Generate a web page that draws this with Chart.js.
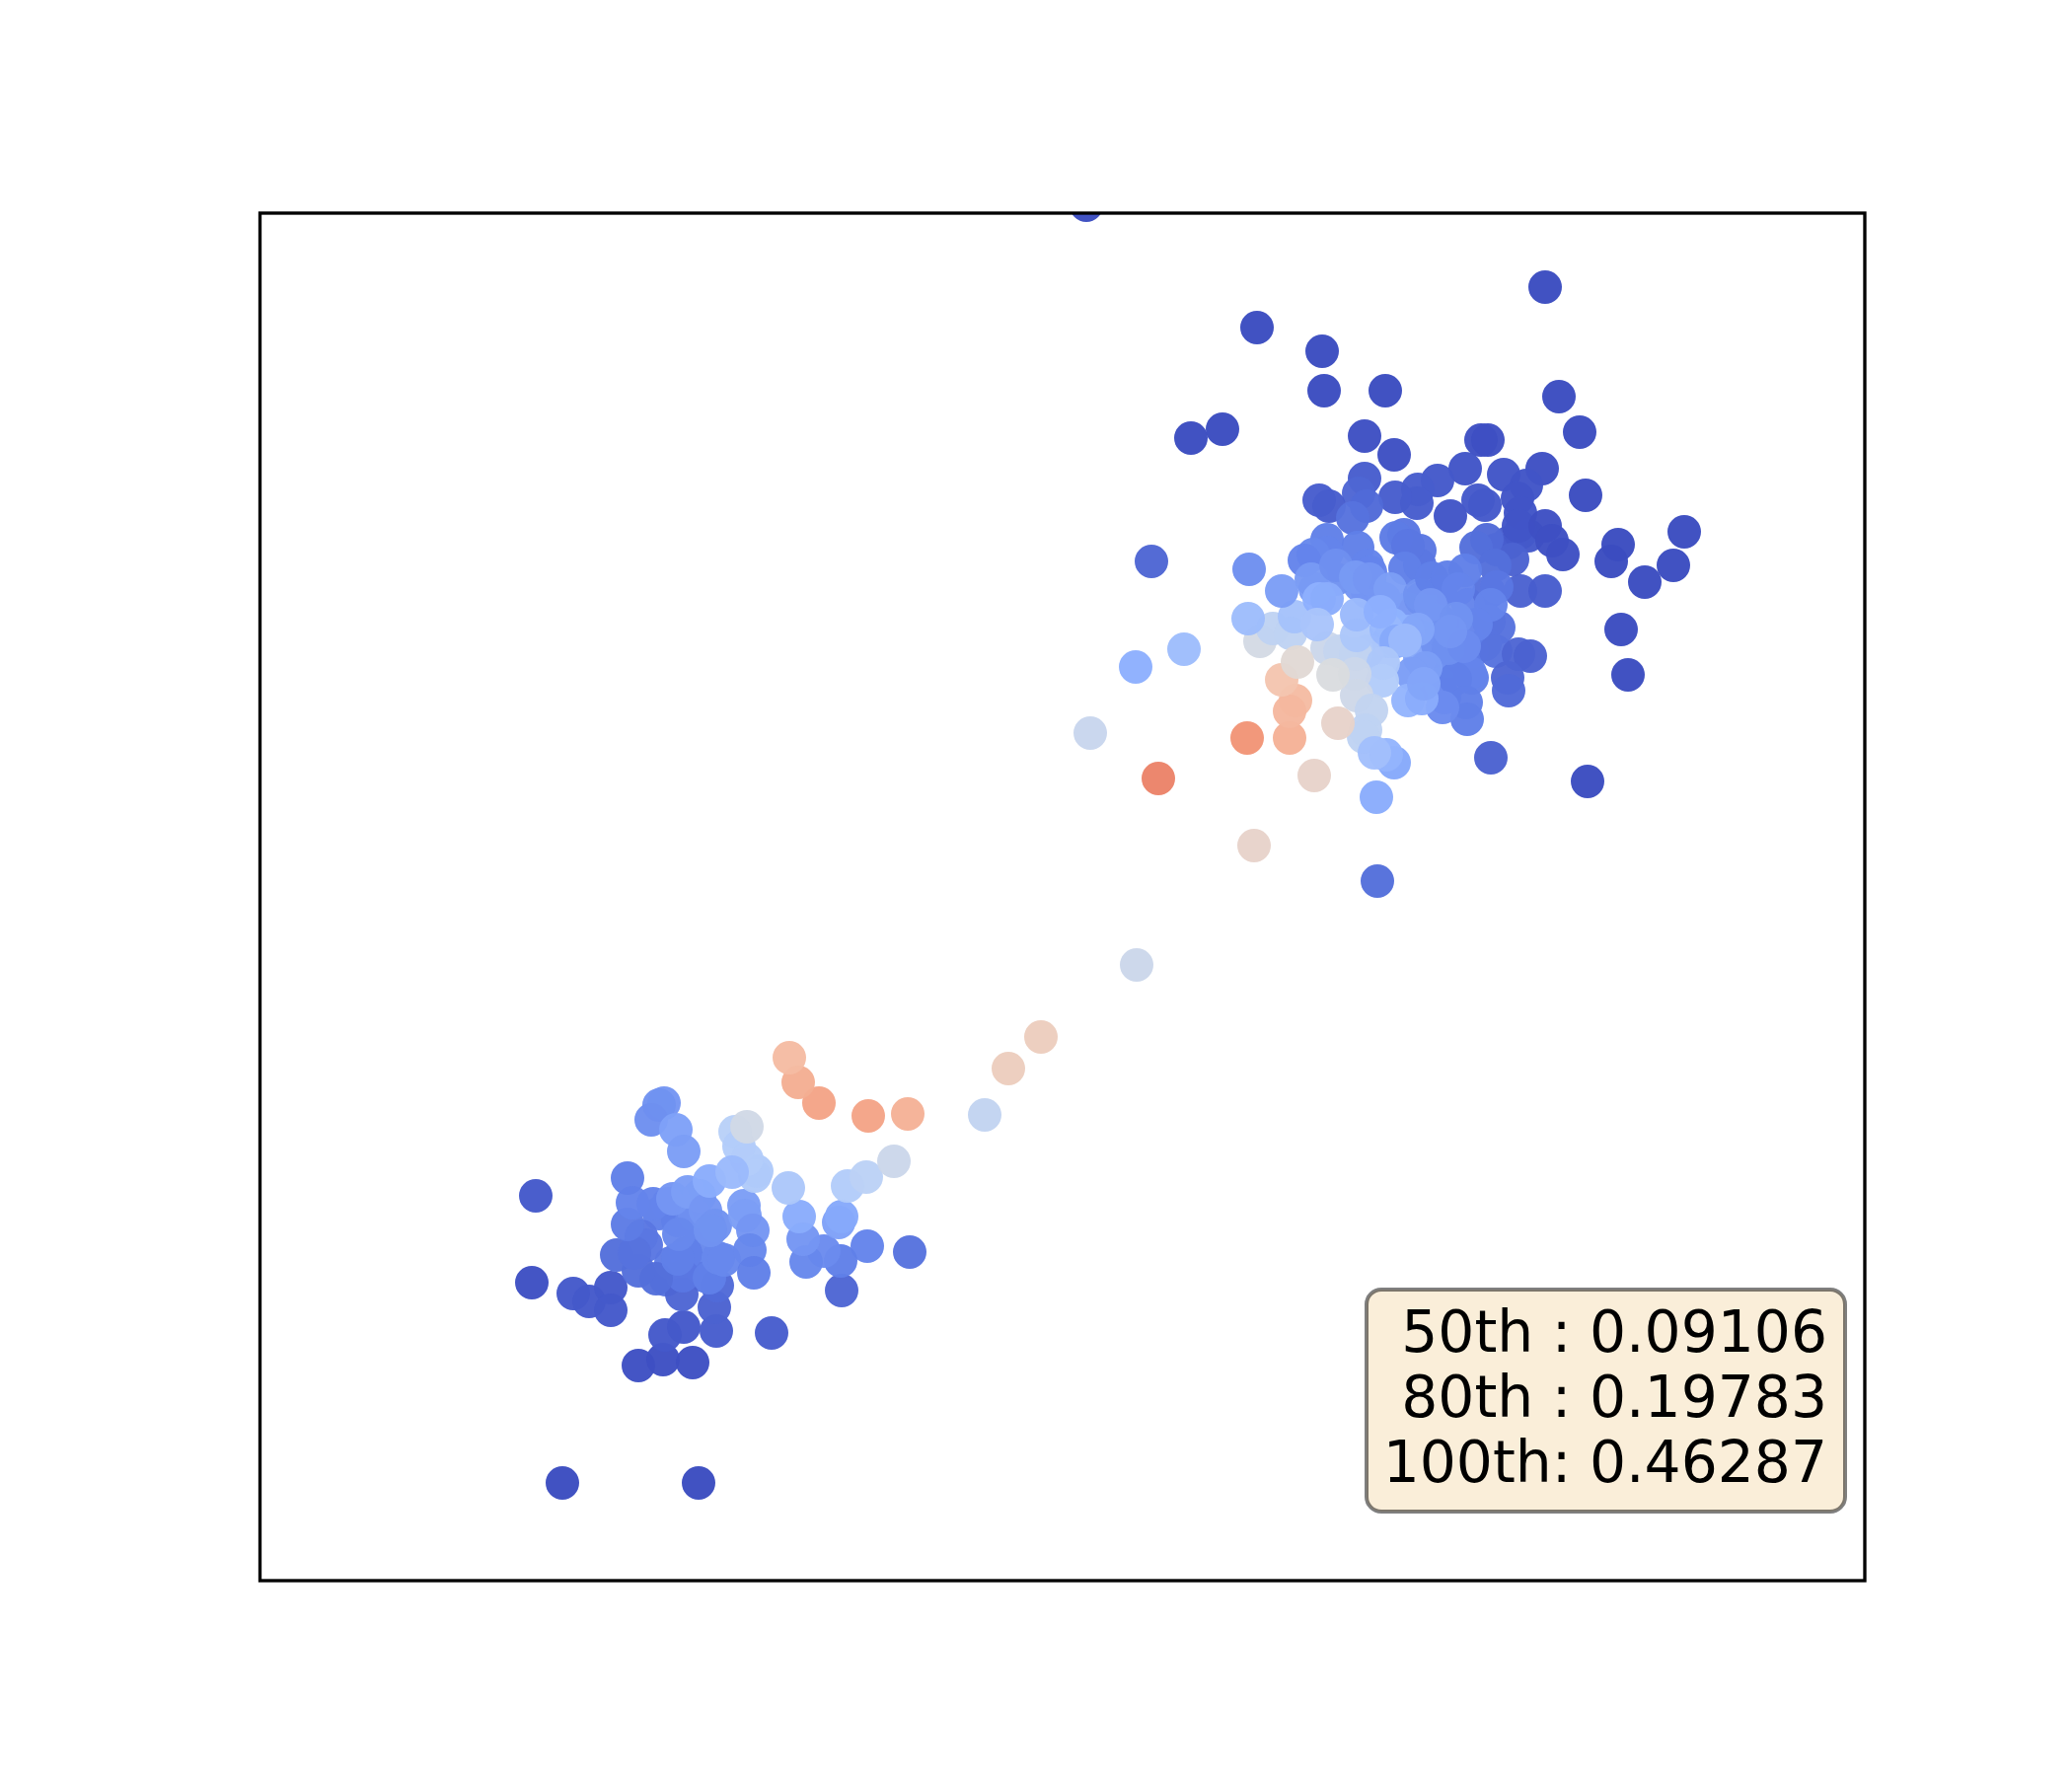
<!DOCTYPE html>
<html>
<head>
<meta charset="utf-8">
<title>Scatter</title>
<script src="https://cdn.jsdelivr.net/npm/chart.js@4"></script>
<style>
  html, body { margin: 0; padding: 0; background: #fff; }
  canvas { display: block; }
</style>
</head>
<body>
<canvas id="myChart" width="2100" height="1800"></canvas>
<script>
// values, axes have no ticks so units are arbitrary
const statLabels = ["50th : 0.09106", "80th : 0.19783", "100th: 0.46287"];

// points hidden under the top of each clump
const lowerCoreX = [414, 424, 441, 456, 417, 437, 451, 405, 392, 445, 432, 412, 446];
const lowerCoreY = [382, 365, 370, 359, 322, 315, 309, 372, 340, 340, 332, 305, 390];
const lowerCoreShade = [.14, .14, .16, .17, .11, .1, .11, .12, .1, .14, .12, .09, .18];

const lowerX = [307, 445, 280, 276, 318, 334, 356, 356, 384, 409, 439, 411, 430, 463, 519, 461, 428, 464, 590,
  659, 616, 589, 572, 554, 551, 429, 402, 384, 387, 362, 380, 373, 378, 399, 373, 456, 465, 471, 424, 425,
  419, 434, 452, 462, 491, 492, 500, 497, 501, 410, 405, 397, 422, 430, 456, 457, 547, 587, 590, 536, 596,
  615, 643, 482, 486, 504, 502, 494, 479, 494, 657, 617, 567, 546, 537];
const lowerY = [99, 99, 390, 302, 291, 283, 297, 274, 218, 224, 221, 249, 257, 253, 251, 277, 290, 299, 294,
  333, 339, 324, 334, 323, 346, 309, 306, 314, 349, 330, 332, 361, 383, 382, 408, 307, 327, 325, 326, 351,
  387, 394, 375, 360, 380, 370, 355, 335, 312, 484, 482, 467, 457, 435, 405, 355, 369, 363, 369, 398, 400,
  409, 425, 455, 440, 415, 410, 427, 414, 460, 473, 471, 484, 505, 530];
const lowerShade = [0, 0, .03, .01, .03, .03, .03, .03, .01, .01, .01, .03, .03, .04, .04, .05, .06, .07, .06,
  .09, .13, .12, .15, .14, .18, .1, .08, .08, .1, .08, .09, .11, .13, .13, .12, .12, .14, .14, .12, .14,
  .18, .2, .18, .17, .2, .2, .18, .14, .12, .18, .17, .16, .21, .2, .24, .17, .24, .21, .23, .34, .36,
  .39, .44, .38, .36, .35, .35, .36, .29, .46, .68, .72, .72, .69, .65];

// bridge between the two clumps
const bridgeX = [735, 759, 792];
const bridgeY = [472, 519, 551];
const bridgeShade = [.41, .58, .58];

const upperCoreX = [1197, 1188, 1164, 1225, 1246, 1246, 1197, 1213, 1229, 1242, 1205, 1229, 1197, 1201,
  1123, 1140, 1115, 1091, 1070, 1176, 1254, 1266, 1286, 1278, 1144, 1164, 1148, 1123, 1176, 1177, 1197, 1204, 1194];
const upperCoreY = [1002, 975, 985, 989, 1002, 972, 955, 949, 942, 949, 932, 915, 909, 895,
  1002, 995, 1009, 1015, 1005, 1029, 1045, 1052, 1059, 1062, 952, 962, 969, 942, 935, 995, 972, 942, 949];
const upperCoreShade = [.13, .17, .18, .13, .09, .1, .16, .15, .13, .11, .15, .12, .17, .15,
  .17, .2, .18, .17, .2, .1, .05, .04, .03, .03, .25, .25, .26, .34, .22, .16, .17, .17, .17];

const upperX = [838, 1303, 1011, 1077, 1079, 1141, 1317, 1338, 944, 976, 1120, 1150, 1238, 1245, 1344, 1300, 1261,
  1222, 1194, 1174, 1173, 1151, 1120, 1114, 1122, 1074, 1084, 1108, 1207, 1235, 1242, 1284, 1275, 1278, 1276, 1303,
  1310, 1321, 1444, 1377, 1370, 1433, 1404, 1380, 1387, 1346, 1248, 1133, 904,
  1278, 1303, 1270, 1244, 1233, 1252, 1256, 1253, 1276, 1288, 1265, 1266, 1254, 1248,
  1176, 1160, 1152, 1164, 1113, 1082, 1082, 1068, 1059, 1161, 1123, 1126, 1227, 1212, 1223, 1224, 1199, 1233,
  1003, 1066, 1091, 1111, 1125, 1146, 1176, 1188, 1204, 1222, 1215, 1187, 1213, 1205, 1221, 1207,
  1182, 1168, 1164, 1178, 1180, 1150, 1132,
  1014, 1027, 1045, 1082, 1095, 1111, 1049, 1002, 1036, 1074, 1082, 1072, 1112, 1112, 1151, 1142, 1152, 1136, 1174, 1161,
  937, 888, 842, 889, 1139, 1138, 1110, 1112, 1127, 1121, 1119, 1142, 1130,
  1044, 1050, 1044, 1036, 1052, 1088, 1093, 1069, 1008, 1001, 911];
const upperY = [1394, 1311, 1270, 1246, 1206, 1206, 1200, 1164, 1158, 1167, 1160, 1141, 1156, 1156, 1100, 1127, 1121,
  1127, 1115, 1106, 1092, 1098, 1117, 1102, 1089, 1095, 1089, 1077, 1079, 1095, 1090, 1110, 1097, 1082, 1069, 1069,
  1054, 1040, 1063, 1050, 1033, 1029, 1012, 964, 918, 810, 834, 709, 1033,
  1003, 1003, 1035, 1055, 1047, 1029, 966, 942, 939, 937, 915, 902, 1007, 989,
  1044, 1060, 1057, 1049, 1047, 1055, 1042, 1040, 1034, 1026, 1029, 1022, 920, 914, 890, 873, 885, 969,
  1025, 1015, 1029, 1017, 1015, 1005, 999, 1016, 1017, 1024, 1005, 989, 975, 945, 947, 962,
  925, 919, 892, 894, 909, 829, 794,
  952, 965, 960, 945, 942, 939, 977, 975, 1003, 995, 995, 969, 958, 979, 952, 964, 952, 982, 964, 953,
  944, 926, 859, 624, 930, 912, 919, 897, 882, 862, 855, 837, 839,
  854, 892, 881, 913, 931, 918, 869, 816, 745, 854, 813];
const upperShade = [0, 0, 0, 0, 0, 0, 0, 0, 0, 0, .01, .01, .01, .01, 0, .01, .02,
  .02, .03, .04, .04, .04, .04, .06, .07, .04, .04, .09, .02, .03, .03, .02, .02, .02, .02, .01,
  .01, .01, 0, 0, 0, 0, 0, 0, 0, 0, .05, .08, .06,
  .05, .04, .05, .07, .08, .08, .09, .09, .06, .05, .06, .07, .1, .13,
  .1, .1, .11, .1, .12, .12, .13, .14, .13, .12, .13, .13, .13, .12, .12, .12, .15, .13,
  .16, .19, .16, .19, .18, .2, .17, .12, .12, .12, .13, .18, .17, .16, .15, .18,
  .2, .2, .27, .24, .22, .23, .24,
  .47, .4, .4, .44, .42, .41, .32, .3, .2, .25, .24, .33, .34, .29, .27, .28, .23, .25, .22, .29,
  .3, .25, .43, .44, .34, .36, .44, .45, .41, .4, .4, .27, .31,
  .68, .65, .66, .62, .52, .49, .55, .55, .55, .76, .8];

// coolwarm
const colorStops = [
  [59, 76, 192], [98, 130, 234], [141, 176, 254], [184, 208, 249], [221, 221, 221],
  [245, 196, 173], [244, 154, 123], [222, 96, 77], [180, 4, 38],
];

function shadeToColor(v) {
  const p = Math.min(v, 0.999) * (colorStops.length - 1);
  const i = Math.floor(p);
  const f = p - i;
  const c = colorStops[i].map((a, k) => Math.round(a + (colorStops[i + 1][k] - a) * f));
  return `rgba(${c[0]}, ${c[1]}, ${c[2]}, 0.97)`;
}

function makeDataset(xs, ys, shades) {
  return {
    data: xs.map((x, i) => ({ x: x, y: ys[i] })),
    pointBackgroundColor: shades.map(shadeToColor),
    pointBorderWidth: 0,
    pointRadius: 17,
    showLine: false,
    clip: 0,
  };
}

const frameAndBox = {
  id: "frameAndBox",
  afterDraw: (chart) => {
    const ctx = chart.ctx;
    const area = chart.chartArea;

    ctx.save();
    ctx.lineWidth = 3.33;
    ctx.strokeStyle = "#000";
    ctx.strokeRect(area.left, area.top, area.width, area.height);

    // stats box
    const boxLeft = area.right - 505;
    const boxTop = area.bottom - 295;
    ctx.beginPath();
    ctx.roundRect(boxLeft, boxTop, 485, 225, 15);
    ctx.fillStyle = "rgba(245, 222, 179, 0.5)";
    ctx.fill();
    ctx.lineWidth = 4;
    ctx.strokeStyle = "rgba(0, 0, 0, 0.5)";
    ctx.stroke();

    ctx.fillStyle = "#000";
    ctx.font = '58.3px "DejaVu Sans"';
    ctx.textAlign = "right";
    ctx.textBaseline = "alphabetic";
    statLabels.forEach((label, i) => {
      ctx.fillText(label, area.right - 38, area.bottom - 232 + i * 66);
    });
    ctx.restore();
  },
};

new Chart(document.getElementById("myChart"), {
  type: "scatter",
  data: {
    // chart.js paints the first dataset last
    datasets: [
      makeDataset(upperX, upperY, upperShade),
      makeDataset(upperCoreX, upperCoreY, upperCoreShade),
      makeDataset(bridgeX, bridgeY, bridgeShade),
      makeDataset(lowerX, lowerY, lowerShade),
      makeDataset(lowerCoreX, lowerCoreY, lowerCoreShade),
    ],
  },
  options: {
    responsive: false,
    animation: false,
    events: [],
    layout: { padding: { left: 263.5, right: 210, top: 216, bottom: 198 } },
    plugins: { legend: { display: false }, tooltip: { enabled: false } },
    scales: {
      x: { type: "linear", display: false, min: 0.5, max: 1627 },
      y: { type: "linear", display: false, min: 0, max: 1386 },
    },
  },
  plugins: [frameAndBox],
});
</script>
</body>
</html>
